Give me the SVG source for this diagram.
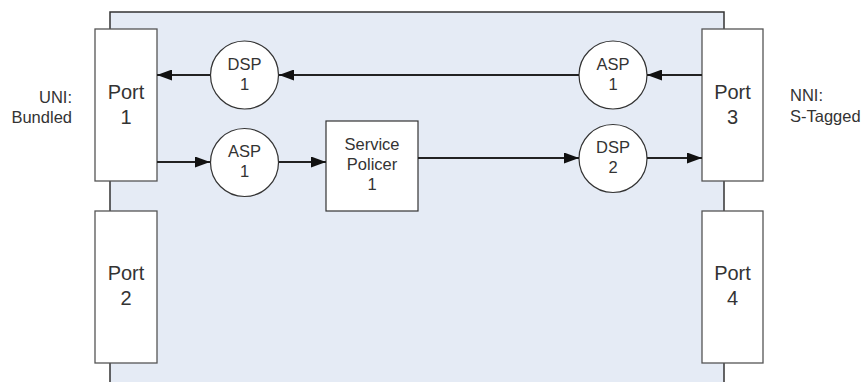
<svg xmlns="http://www.w3.org/2000/svg" width="865" height="382" viewBox="0 0 865 382">
<style>
text{font-family:"Liberation Sans",Arial,sans-serif;fill:#333;text-anchor:middle}
.port{fill:#fff;stroke:#555;stroke-width:1.3}
.sp{fill:#fff;stroke:#333;stroke-width:1.2}
.lbl{font-size:16.5px}
.pt{font-size:20px}
.ct{font-size:16.5px}
.conn line{stroke:#222;stroke-width:2;marker-end:url(#ah)}
</style>
<defs>
<marker id="ah" viewBox="0 0 15 11" refX="15" refY="5.5" markerWidth="15" markerHeight="11" markerUnits="userSpaceOnUse" orient="auto">
<path d="M0,0 L15,5.5 L0,11 z" fill="#111"/>
</marker>
</defs>
<rect width="865" height="382" fill="#fff"/>
<g id="device">
<rect x="110" y="12" width="614" height="400" fill="#e5ebf5" stroke="#333" stroke-width="1.5"/>
</g>
<g id="uni-label">
<text class="lbl" x="72" y="103" style="text-anchor:end">UNI:</text>
<text class="lbl" x="72" y="123" style="text-anchor:end">Bundled</text>
</g>
<g id="nni-label">
<text class="lbl" x="790" y="101" style="text-anchor:start">NNI:</text>
<text class="lbl" x="790" y="122" style="text-anchor:start">S-Tagged</text>
</g>
<g id="port1">
<rect class="port" x="95" y="29" width="62" height="152"/>
<text class="pt" x="126" y="99">Port</text>
<text class="pt" x="126" y="124">1</text>
</g>
<g id="port2">
<rect class="port" x="95" y="211" width="62" height="152"/>
<text class="pt" x="126" y="280">Port</text>
<text class="pt" x="126" y="305">2</text>
</g>
<g id="port3">
<rect class="port" x="702" y="29" width="61" height="152"/>
<text class="pt" x="732.5" y="99">Port</text>
<text class="pt" x="732.5" y="124">3</text>
</g>
<g id="port4">
<rect class="port" x="702" y="211" width="61" height="152"/>
<text class="pt" x="732.5" y="280">Port</text>
<text class="pt" x="732.5" y="305">4</text>
</g>
<g id="dsp1">
<circle class="sp" cx="244.5" cy="75" r="34"/>
<text class="ct" x="244.5" y="70">DSP</text>
<text class="ct" x="244.5" y="90">1</text>
</g>
<g id="asp1-left">
<circle class="sp" cx="244.5" cy="162.5" r="34"/>
<text class="ct" x="244.5" y="157">ASP</text>
<text class="ct" x="244.5" y="177">1</text>
</g>
<g id="service-policer">
<rect class="sp" x="326" y="121" width="92" height="90"/>
<text class="ct" x="372" y="150">Service</text>
<text class="ct" x="372" y="170">Policer</text>
<text class="ct" x="372" y="190">1</text>
</g>
<g id="asp1-right">
<circle class="sp" cx="613" cy="75" r="34"/>
<text class="ct" x="613" y="70">ASP</text>
<text class="ct" x="613" y="90">1</text>
</g>
<g id="dsp2">
<circle class="sp" cx="613" cy="158.5" r="34"/>
<text class="ct" x="613" y="153">DSP</text>
<text class="ct" x="613" y="173">2</text>
</g>
<g id="connectors" class="conn">
<line x1="702" y1="75" x2="647" y2="75"/>
<line x1="579" y1="75" x2="279" y2="75"/>
<line x1="210" y1="75" x2="157" y2="75"/>
<line x1="157" y1="162" x2="210" y2="162"/>
<line x1="279" y1="162" x2="326" y2="162"/>
<line x1="418" y1="158" x2="579" y2="158"/>
<line x1="647" y1="158" x2="702" y2="158"/>
</g>
</svg>
